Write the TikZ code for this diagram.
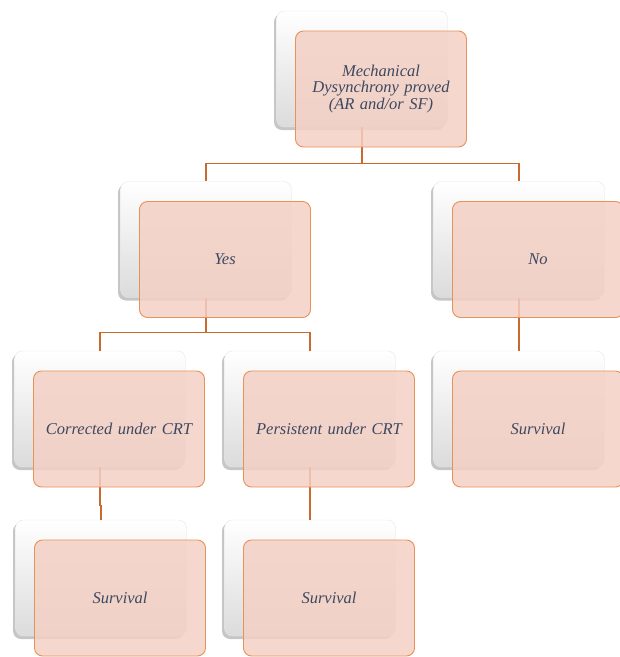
\documentclass[tikz,border=0pt]{standalone}
\usepackage{fontspec}
\setmainfont{Liberation Serif}[ItalicFont={Liberation Serif Italic}]
\usetikzlibrary{shadows}
\definecolor{ofill}{RGB}{244,208,196}
\definecolor{oborder}{RGB}{232,145,90}
\definecolor{conncol}{RGB}{200,105,45}
\definecolor{txtcol}{RGB}{62,72,95}
\tikzset{
  backbox/.style={rectangle, rounded corners=8pt, minimum width=171pt, minimum height=116pt, inner sep=0pt,
    draw=black!10, line width=0.4pt, top color=white, middle color=white, bottom color=black!14,
    drop shadow={shadow xshift=-2.5pt, shadow yshift=-3pt, opacity=0.45}},
  frontbox/.style={rectangle, rounded corners=8pt, minimum width=171pt, minimum height=116pt, inner sep=0pt,
    fill=ofill, fill opacity=0.85, draw=oborder, draw opacity=1, line width=0.9pt, text opacity=1,
    text=txtcol, text width=160pt, align=center, font=\fontsize{16.5}{16.7}\selectfont\itshape},
  conn/.style={draw=conncol, line width=1.3pt}
}
\begin{document}
\begin{tikzpicture}[x=1pt,y=-1pt]
\useasboundingbox (0,0) rectangle (620,657);
% back boxes
\node[backbox] (tw) at (362,69) {};
\node[backbox] (yw) at (206,239.5) {};
\node[backbox] (nw) at (519,239.5) {};
\node[backbox] (cw) at (100,409) {};
\node[backbox] (pw) at (310,409) {};
\node[backbox] (rw) at (519,409) {};
\node[backbox] (lw) at (101,578) {};
\node[backbox] (mw) at (310,578) {};
% connectors
\draw[conn] (tw.south) -- ++(0,-36pt) -| (yw.north);
\draw[conn] (tw.south) -- ++(0,-36pt) -| (nw.north);
\draw[conn] (yw.south) -- ++(0,-35pt) -| (cw.north);
\draw[conn] (yw.south) -- ++(0,-35pt) -| (pw.north);
\draw[conn] (nw.south) -- (rw.north);
\draw[conn] (cw.south) -- ++(0,-38pt) -| (lw.north);
\draw[conn] (pw.south) -- (mw.north);
% front boxes
\node[frontbox] (tf) at (381,89) {Mechanical\\Dysynchrony proved\\(AR and/or SF)};
\node[frontbox] (yf) at (225,259.5) {Yes};
\node[frontbox] (nf) at (538,259.5) {No};
\node[frontbox] (cf) at (119,429) {Corrected under CRT};
\node[frontbox] (pf) at (329,429) {Persistent under CRT};
\node[frontbox] (rf) at (538,429) {Survival};
\node[frontbox] (lf) at (120,598) {Survival};
\node[frontbox] (mf) at (329,598) {Survival};
\end{tikzpicture}
\end{document}
